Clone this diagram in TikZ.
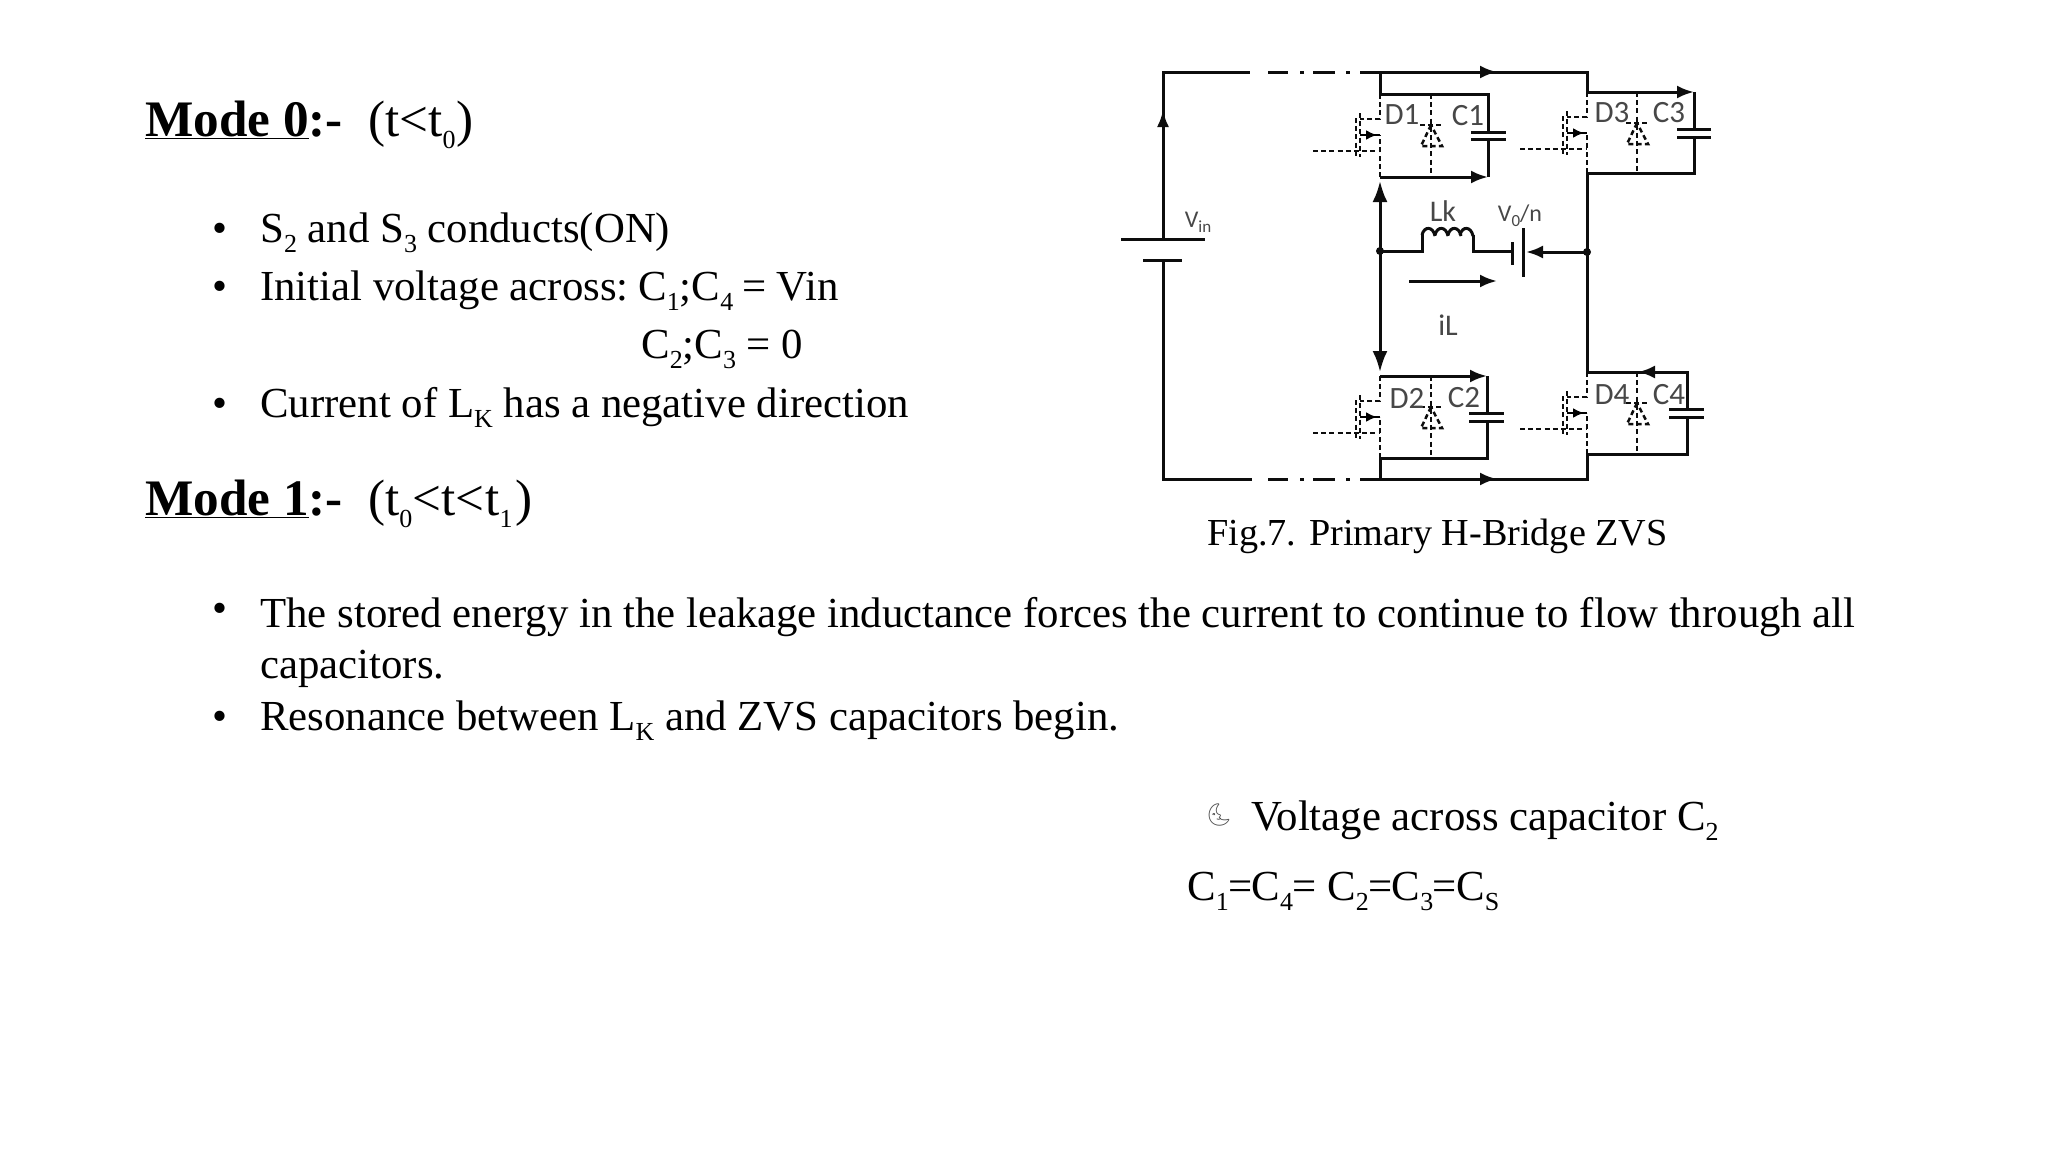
\documentclass[tikz,border=0pt]{standalone}
\usepackage{fontspec}
\setmainfont{Liberation Serif}
\newfontfamily\labelfont{Carlito}
\newfontfamily\moonfont{Noto Emoji}
\usetikzlibrary{arrows.meta}
\newcommand{\low}[1]{\raisebox{-0.24em}{\fontsize{26}{26}\selectfont #1}}
\tikzset{
  wire/.style={line width=3pt,color=black!95},
  swdash/.style={line width=2.5pt,color=black!95,dash pattern=on 5pt off 3.2pt},
  tip/.style={-{Latex[length=17pt,width=13pt]}},
  bigtip/.style={-{Latex[length=21pt,width=15pt]}},
  body/.style={anchor=base west,inner sep=0pt,font=\fontsize{42.8}{42.8}\selectfont},
  head/.style={anchor=base west,inner sep=0pt,font=\fontsize{51.2}{51.2}\selectfont},
  partlabel/.style={inner sep=0pt,text=black!72,font=\labelfont\fontsize{31}{31}\selectfont},
}
\begin{document}
\begin{tikzpicture}[x=1pt,y=-1pt]
\useasboundingbox (0,0) rectangle (2048,1152);

\def\legL{1380}
\def\legR{1587}
\def\railT{72}
\def\railB{479}

\coordinate (tl) at (1163,\railT);
\coordinate (bl) at (1163,\railB);
\coordinate (tm) at (\legL,\railT);
\coordinate (bm) at (\legL,\railB);
\coordinate (tr) at (\legR,\railT);
\coordinate (br) at (\legR,\railB);
\coordinate (bat1) at (1163,239);
\coordinate (bat2) at (1163,260);
\coordinate (midL) at (\legL,251);
\coordinate (midR) at (\legR,252);

% source and rails
\draw[wire] (bat1) -- (tl) -- (1250,\railT);
\draw[wire] (bat2) -- (bl) -- (1252,\railB);
\draw[wire,-{Latex[length=17pt,width=12pt]}] (bat1) -- (1163,110);
\draw[wire] (1121,239) -- (1205,239);
\draw[wire] (1143,260) -- (1182,260);
\foreach \y in {\railT,\railB}
  \foreach \a/\b in {1268/1288,1300/1304,1313/1335,1346/1350,1360/1380}
    \draw[wire] (\a,\y) -- (\b,\y);
\draw[wire] (tm) -- (tr) -- (\legR,92);
\draw[wire] (bm) -- (br) -- (\legR,454);
\draw[wire,tip] (tm) -- (1497,\railT);
\draw[wire,tip] (bm) -- (1497,\railB);

% capacitor loops
\draw[wire] (tm) -- (\legL,94) -- (1488,94) -- (1488,132);
\draw[wire] (1488,139) -- (1488,177);
\draw[wire,tip] (\legL,177) -- (1488,177);
\draw[wire] (1471,132) -- (1506,132);
\draw[wire] (1471,139) -- (1506,139);
\draw[wire] (bm) -- (\legL,458) -- (1487,458) -- (1487,421);
\draw[wire] (1487,413) -- (1487,376);
\draw[wire,tip] (\legL,376) -- (1487,376);
\draw[wire] (1469,413) -- (1504,413);
\draw[wire] (1469,421) -- (1504,421);
\draw[wire,tip] (\legR,92) -- (1694,92);
\draw[wire] (1694,92) -- (1694,129);
\draw[wire] (1694,137) -- (1694,173) -- (\legR,173);
\draw[wire] (1677,129) -- (1711,129);
\draw[wire] (1677,137) -- (1711,137);
\draw[wire] (\legR,173) -- (\legR,372) -- (1687,372) -- (1687,409);
\draw[wire,tip] (1687,372) -- (1638,372);
\draw[wire] (1687,417) -- (1687,454) -- (\legR,454);
\draw[wire] (1669,409) -- (1704,409);
\draw[wire] (1669,417) -- (1704,417);

% switches and body diodes
\foreach \lx/\dx/\t/\b in {1380/1431/94/177,1380/1431/376/458,1587/1637/92/173,1587/1637/372/454}{
  \draw[swdash] (\lx,\t) -- (\lx,\t+25) -- (\lx-20,\t+25);
  \draw[swdash] (\lx,\b) -- (\lx,\t+41);
  \draw[swdash] (\lx-67,\t+57) -- (\lx,\t+57);
  \draw[swdash] (\lx-20,\t+19) -- (\lx-20,\t+63);
  \draw[swdash] (\lx-24,\t+24) -- (\lx-24,\t+62);
  \draw[line width=2.5pt,-{Latex[length=11pt,width=10pt]}] (\lx-20,\t+41) -- (\lx-3,\t+41);
  \draw[line width=2.5pt] (\lx-20,\t+41) -- (\lx,\t+41);
  \draw[swdash] (\dx,\t) -- (\dx,\b);
  \draw[swdash] (\dx-11,\t+31) -- (\dx+10,\t+31);
  \draw[swdash] (\dx,\t+31) -- (\dx-10,\t+52) -- (\dx+11,\t+52) -- cycle;
}

% middle branch
\draw[wire,bigtip] (midL) -- (\legL,181);
\draw[wire,bigtip] (midL) -- (\legL,372);
\fill[black!95] (midL) circle (4pt);
\fill[black!95] (midR) circle (4pt);
\draw[wire] (midL) -- (1422,251) -- (1422,234);
\foreach \x in {1422,1435,1448,1460}
  \draw[wire] (\x,235) .. controls (\x+2,226) and (\x+11,226) .. (\x+13,236);
\draw[wire] (1473,235) -- (1473,251) -- (1512,251);
\draw[wire] (1512,242) -- (1512,265);
\draw[wire] (1523,228) -- (1523,277);
\draw[wire,tip] (midR) -- (1526,252);
\draw[wire,tip] (1409,281) -- (1497,281);

% circuit labels
\node[partlabel] (d1) at (1402,115) {D1};
\node[partlabel] (c1) at (1468,116) {C1};
\node[partlabel] (d2) at (1407,398) {D2};
\node[partlabel] (c2) at (1464,398) {C2};
\node[partlabel] (d3) at (1612,113) {D3};
\node[partlabel] (c3) at (1669,113) {C3};
\node[partlabel] (d4) at (1612,395) {D4};
\node[partlabel] (c4) at (1669,395) {C4};
\node[partlabel,font=\labelfont\fontsize{30}{30}\selectfont] (lk) at (1443,211) {Lk};
\node[partlabel,font=\labelfont\fontsize{30}{30}\selectfont] (il) at (1448,325) {iL};
\node[partlabel,font=\labelfont\fontsize{24}{24}\selectfont] (vo) at (1520,216) {V\raisebox{-0.2em}{\fontsize{17}{17}\selectfont 0}/n};
\node[partlabel,font=\labelfont\fontsize{24}{24}\selectfont] (vin) at (1198,222) {V\raisebox{-0.2em}{\fontsize{17}{17}\selectfont in}};
\node[body,font=\fontsize{38.2}{38.2}\selectfont] (figcap) at (1216,545) {\hspace{-9pt}Fig.7. Primary H-Bridge ZVS};

% slide text
\node[head] (mode0) at (145,136) {\textbf{\underline{Mode 0}:-}};
\node[head] (time0) at (368,136) {(t<t\low{0}\kern1pt)};
\node[body] (b1) at (212,242) {•};
\node[body] (l1) at (260,242) {S\low{2} and S\low{3} conducts(ON)};
\node[body] (b2) at (212,300) {•};
\node[body] (l2) at (260,300) {Initial voltage across:\kern-1pt\ C\low{1};C\low{4}\kern-2pt\ = Vin};
\node[body] (l3) at (641,358) {C\low{2};C\low{3} = 0};
\node[body] (b3) at (212,417) {•};
\node[body] (l4) at (260,417) {Current of L\low{K} has a negative direction};
\node[head] (mode1) at (145,515) {\textbf{\underline{Mode 1}:-}};
\node[head] (time1) at (368,515) {(t\low{0}<t<\kern1pt t\low{1}\kern3pt)};
\node[body] (b4) at (212,622) {•};
\node[body] (l5) at (260,627) {The stored energy in the leakage inductance forces the current to continue to flow through all};
\node[body] (l6) at (260,678) {capacitors.};
\node[body] (b5) at (212,730) {•};
\node[body] (l7) at (260,730) {Resonance between L\low{K} and ZVS capacitors begin.};
\node[inner sep=0pt,text=black!70,font=\moonfont\fontsize{22}{22}\selectfont] (moon) at (1219,815) {🌜};
\node[body] (l8) at (1251,830) {Voltage across capacitor C\low{2}};
\node[body] (l9) at (1187,900) {C\low{1}\kern-0.7pt=\kern-0.5pt C\low{4}\kern-0.7pt= C\low{2}\kern-0.7pt=\kern-0.5pt C\low{3}\kern-0.7pt=\kern-0.5pt C\low{S}};
\end{tikzpicture}
\end{document}
